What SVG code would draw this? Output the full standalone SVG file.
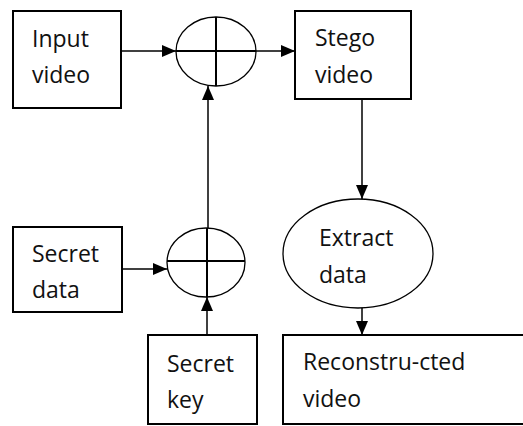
<svg xmlns="http://www.w3.org/2000/svg" width="523" height="426" viewBox="0 0 523 426">
<style>
.box{fill:#fff;stroke:#000;stroke-width:2}
.ell{fill:#fff;stroke:#000;stroke-width:1.3}
.x{stroke:#000;stroke-width:2;fill:none}
.ln{stroke:#000;stroke-width:1.5;fill:none}
text{font-family:"Open Sans","Noto Sans",sans-serif;font-size:23px;fill:#111}
</style>
<defs>
<marker id="ah" markerWidth="14" markerHeight="12" refX="14" refY="6" orient="auto" markerUnits="userSpaceOnUse">
<path d="M0,0 L14,6 L0,12 Z" fill="#000"/>
</marker>
</defs>
<rect width="523" height="426" fill="#fff"/>
<g id="connectors">
<line class="ln" x1="121" y1="51" x2="176" y2="51" marker-end="url(#ah)"/>
<line class="ln" x1="256" y1="51" x2="295" y2="51" marker-end="url(#ah)"/>
<line class="ln" x1="208" y1="228" x2="208" y2="86" marker-end="url(#ah)"/>
<line class="ln" x1="122" y1="269" x2="167" y2="269" marker-end="url(#ah)"/>
<line class="ln" x1="207" y1="335" x2="207" y2="297" marker-end="url(#ah)"/>
<line class="ln" x1="362" y1="99" x2="362" y2="199" marker-end="url(#ah)"/>
<line class="ln" x1="362" y1="308" x2="362" y2="335" marker-end="url(#ah)"/>
</g>
<g id="input-video">
<rect class="box" x="13" y="11" width="108" height="97"/>
<text x="32" y="47">Input</text>
<text x="32" y="83">video</text>
</g>
<g id="xor-top">
<ellipse class="ell" cx="216" cy="51.5" rx="40" ry="34.5"/>
<line class="x" x1="176" y1="51" x2="256" y2="51"/>
<line class="x" x1="216" y1="17" x2="216" y2="86"/>
</g>
<g id="stego-video">
<rect class="box" x="295" y="11" width="116" height="88"/>
<text x="315" y="46">Stego</text>
<text x="315" y="83">video</text>
</g>
<g id="secret-data">
<rect class="box" x="13" y="227" width="109" height="85"/>
<text x="32" y="262">Secret</text>
<text x="32" y="298">data</text>
</g>
<g id="xor-bottom">
<ellipse class="ell" cx="206" cy="262.5" rx="39" ry="34.5"/>
<line class="x" x1="167" y1="261" x2="245" y2="261"/>
<line class="x" x1="207" y1="228" x2="207" y2="297"/>
</g>
<g id="secret-key">
<rect class="box" x="148" y="335" width="109" height="89"/>
<text x="167" y="372">Secret</text>
<text x="167" y="408">key</text>
</g>
<g id="extract-data">
<ellipse class="ell" cx="358" cy="253.5" rx="75" ry="54.5"/>
<text x="319" y="246">Extract</text>
<text x="319" y="283">data</text>
</g>
<g id="reconstructed-video">
<rect class="box" x="283" y="335" width="250" height="89"/>
<text x="303" y="370">Reconstru-cted</text>
<text x="303" y="407">video</text>
</g>
</svg>
